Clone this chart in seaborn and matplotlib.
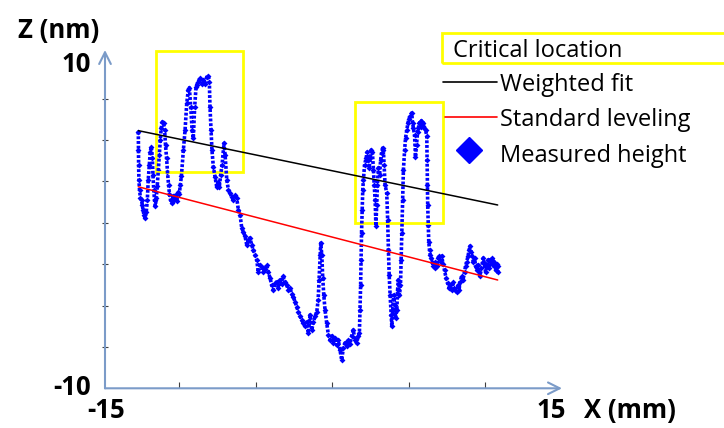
import matplotlib
matplotlib.use("Agg")
import matplotlib.pyplot as plt
import seaborn as sns
import pandas as pd
from matplotlib.patches import Rectangle
from matplotlib.lines import Line2D

# measured surface profile
x_mm = [
    -12.69, -12.68, -12.67, -12.65, -12.61, -12.55, -12.48, -12.43, -12.38, -12.32,
    -12.25, -12.17, -12.10, -12.04, -11.97, -11.91, -11.84, -11.77, -11.73, -11.68,
    -11.63, -11.58, -11.51, -11.45, -11.38, -11.32, -11.25, -11.19, -11.11, -11.04,
    -10.97, -10.91, -10.84, -10.78, -10.71, -10.65, -10.58, -10.50, -10.42, -10.33,
    -10.25, -10.18, -10.09, -10.01, -9.94, -9.87,
    -9.74, -9.63, -9.52, -9.42, -9.35, -9.26, -9.17, -9.09, -9.00, -8.91,
    -8.87, -8.78, -8.65, -8.54, -8.44, -8.32, -8.21, -8.11, -8.04, -8.00,
    -7.93, -7.87, -7.78, -7.67, -7.56, -7.47, -7.39, -7.30, -7.21, -7.08,
    -7.01, -6.90, -6.79, -6.69, -6.58, -6.47, -6.36, -6.25, -6.14, -6.03,
    -5.92, -5.81, -5.71, -5.59, -5.49, -5.38, -5.27, -5.16, -5.05, -4.94,
    -4.84, -4.73, -4.61, -4.51, -4.40, -4.29, -4.18, -4.07, -3.96, -3.85,
    -3.74, -3.63, -3.52, -3.42, -3.31, -3.20, -3.09, -2.98, -2.87, -2.76,
    -2.65, -2.54, -2.43, -2.32, -2.21, -2.11, -2.00, -1.89, -1.78, -1.67,
    -1.56, -1.45, -1.34, -1.23, -1.12, -1.01,
    -0.92, -0.86, -0.79, -0.75, -0.68, -0.62, -0.55, -0.47, -0.36, -0.25,
    -0.14, -0.03, 0.07, 0.18, 0.29, 0.40, 0.51, 0.62, 0.73, 0.84,
    0.95, 1.06, 1.17, 1.27, 1.38, 1.49, 1.60, 1.71, 1.78,
    1.82, 1.86, 1.89, 1.92, 1.96, 2.00, 2.04, 2.12, 2.22, 2.29,
    2.35, 2.42, 2.48, 2.55, 2.63, 2.70, 2.75, 2.81, 2.86, 2.91,
    2.96, 3.02, 3.10, 3.17, 3.23, 3.30, 3.35, 3.40, 3.46, 3.57,
    3.63, 3.68, 3.73, 3.79, 3.86, 3.90, 3.96, 4.02, 4.09, 4.15,
    4.23, 4.28, 4.33, 4.40, 4.47, 4.51, 4.55, 4.61, 4.66, 4.74,
    4.80, 4.88, 4.96, 5.03, 5.09, 5.20, 5.26, 5.31, 5.39, 5.45,
    5.52, 5.59, 5.64, 5.71, 5.78, 5.84, 5.91, 5.96, 6.04, 6.11, 6.19,
    6.21, 6.23, 6.25, 6.29, 6.32, 6.37, 6.42, 6.48, 6.55, 6.62,
    6.70, 6.76, 6.84, 6.93, 7.01, 7.09, 7.17, 7.25, 7.35, 7.45,
    7.55, 7.65, 7.71, 7.81, 7.88, 7.94, 8.04, 8.15, 8.24, 8.30,
    8.37, 8.47, 8.56, 8.66, 8.73, 8.80, 8.89, 8.96, 9.02, 9.09,
    9.15, 9.24, 9.32, 9.38, 9.46, 9.54, 9.61, 9.67, 9.77, 9.84,
    9.89, 9.97, 10.04, 10.11, 10.20, 10.26, 10.33, 10.43, 10.49, 10.56,
    10.62, 10.69, 10.77, 10.82, 10.87,
]
z_nm = [
    5.50, 4.39, 3.49, 2.58, 1.98, 1.49, 1.37, 1.07, 0.77, 0.47,
    0.28, 0.65, 1.37, 2.58, 3.49, 4.27, 4.59, 3.91, 2.88, 1.98,
    1.37, 1.01, 1.49, 2.22, 3.19, 4.09, 5.00, 5.72, 6.09, 6.03,
    5.60, 4.69, 3.91, 3.07, 2.28, 1.73, 1.37, 1.19, 1.61, 1.37,
    1.67, 1.31, 1.85, 1.73, 2.28, 2.82,
    4.39, 5.60, 7.21, 8.01, 8.15, 7.01, 5.60, 5.10, 7.01, 8.21,
    8.31, 8.50, 8.74, 8.38, 8.62, 8.38, 8.80, 8.86, 8.50, 7.01,
    5.60, 4.39, 3.38, 2.76, 2.17, 2.46, 2.16, 2.88, 3.49, 4.80,
    4.09, 2.58, 1.98, 1.80, 1.55, 1.37, 1.67, 1.49, 0.77, 0.47,
    -0.32, -0.56, -0.80, -1.35, -1.04, -0.92, -1.35, -1.65, -1.95, -2.25,
    -2.98, -2.55, -2.67, -2.98, -2.80, -2.55, -2.98, -3.34, -3.76, -4.06,
    -3.64, -3.58, -3.94, -3.46, -3.70, -3.22, -3.58, -3.76, -4.06, -3.94,
    -4.30, -4.49, -4.78, -5.09, -5.39, -5.63, -5.87, -6.06, -6.24, -6.00,
    -6.66, -5.57, -6.48, -6.00, -5.63, -5.39,
    -4.67, -3.46, -1.95, -1.23, -1.95, -3.34, -4.37, -5.27, -6.06, -6.78,
    -7.08, -6.84, -7.26, -6.96, -7.38, -7.08, -7.69, -8.29, -7.57, -7.26,
    -7.45, -7.08, -7.32, -6.84, -6.48, -7.08, -7.26, -6.84, -6.66,
    -5.27, -3.76, -2.25, -0.62, 0.77, 1.98, 2.58, 3.49, 3.91, 4.27,
    3.79, 3.31, 3.91, 4.39, 4.27, 3.19, 2.28, 1.37, -0.20, 1.07,
    2.28, 3.31, 2.88, 3.79, 4.21, 4.51, 4.39, 3.49, 2.28, 1.80,
    0.17, -1.65, -3.16, -4.37, -5.57, -6.24, -5.27, -4.37, -4.97, -5.75,
    -5.27, -4.06, -3.46, -4.37, -3.76, -2.25, -0.62, 1.37, 3.19, 4.39,
    5.12, 5.60, 6.04, 6.28, 6.46, 6.63, 6.04, 5.73, 5.30, 3.97,
    4.69, 5.48, 5.73, 6.04, 5.80, 6.16, 5.86, 6.04, 5.73, 5.60, 5.24,
    3.79, 2.28, 1.07, -0.14, -1.17, -1.65, -1.95, -2.13, -2.37, -2.61,
    -2.37, -2.73, -2.61, -2.13, -2.01, -2.37, -2.01, -2.49, -2.86, -3.34,
    -3.64, -3.94, -3.76, -4.06, -3.58, -3.94, -4.06, -4.18, -3.76, -4.06,
    -3.58, -3.22, -3.46, -2.98, -2.61, -2.37, -2.01, -1.65, -1.41, -1.77,
    -2.01, -2.37, -2.13, -2.61, -2.86, -2.55, -2.98, -3.22, -2.73, -2.37,
    -2.13, -2.55, -2.98, -2.61, -2.25, -2.73, -2.25, -2.49, -2.13, -2.61,
    -2.37, -2.86, -2.49, -2.98, -2.61,
]

# levelling lines (end points)
fit_x = [-12.69, 10.83]
weighted_fit = [5.56, 1.07]
standard_leveling = [2.17, -3.46]

# critical location boxes
crit_x0 = [-11.53, 1.49]
crit_x1 = [-5.82, 7.23]
crit_z0 = [3.04, -0.04]
crit_z1 = [10.37, 7.31]

x_ticks = [-10, -5, 0, 5, 10]
z_ticks = [-7.5, -5, -2.5, 0, 2.5, 5, 7.5]

W, H = 724, 428


def px(x, y):
    return x / W, 1 - y / H


sns.set_theme(style="white")
plt.rcParams['font.family'] = ['Open Sans', 'DejaVu Sans']

fig = plt.figure(figsize=(W / 100, H / 100), dpi=100)
ax = fig.add_axes([105 / W, 1 - 388.3 / H, 457 / W, 338.3 / H])
ax.set_xlim(-14.87, 15.04)
ax.set_ylim(-10, 10.43)

df = pd.DataFrame({"x": x_mm, "z": z_nm})
sns.lineplot(data=df, x="x", y="z", sort=False, estimator=None,
             color="#0000ff", lw=2.6, ax=ax)
ax.lines[-1].set_linestyle((0, (0.8, 0.5)))
sns.scatterplot(data=df, x="x", y="z", marker="D", s=9, color="#0000ff",
                linewidth=0, ax=ax)

sns.lineplot(x=fit_x, y=weighted_fit, color="black", lw=1.1, ax=ax)
sns.lineplot(x=fit_x, y=standard_leveling, color="#ff0000", lw=1.1, ax=ax)

for i in range(len(crit_x0)):
    ax.add_patch(Rectangle((crit_x0[i], crit_z0[i]), crit_x1[i] - crit_x0[i],
                           crit_z1[i] - crit_z0[i], fill=False, ec="#ffff00",
                           lw=2, clip_on=False, zorder=1))

# axes with arrows
for spine in ax.spines.values():
    spine.set_visible(False)
arrow = dict(arrowstyle="->,head_length=0.7,head_width=0.35", color="#7b9bc8",
             lw=1.5, shrinkA=0, shrinkB=0)
ax.annotate("", xy=(1, 0), xytext=(0, 0), xycoords="axes fraction", arrowprops=arrow)
ax.annotate("", xy=(0, 1), xytext=(0, 0), xycoords="axes fraction", arrowprops=arrow)

ax.set_xticks(x_ticks)
ax.set_yticks(z_ticks)
ax.set_xticklabels([])
ax.set_yticklabels([])
ax.set_xlabel("")
ax.set_ylabel("")
ax.tick_params(axis="x", bottom=True, direction="in", length=4, width=0.8, color="#404040")
ax.tick_params(axis="y", left=True, direction="inout", length=5, width=0.8, color="#404040")

bold = dict(fontsize=18.5, fontweight="bold", color="black", va="baseline", ha="center")
fig.text(*px(59, 38), "Z (nm)", **bold)
fig.text(*px(76, 72), "10", **bold)
fig.text(*px(72, 395), "-10", **bold)
fig.text(*px(106.5, 418), "-15", **bold)
fig.text(*px(551.5, 418), "15", **bold)
fig.text(*px(630, 418), "X (mm)", **bold)

# legend drawn by hand
leg = dict(fontsize=17, color="black", va="baseline", ha="left")
x0, y0 = px(441.7, 63.3)
fig.add_artist(Rectangle((x0, y0), 300 / W, 30 / H, fill=False, ec="#ffff00",
                         lw=2, transform=fig.transFigure, clip_on=False))
fig.text(*px(453, 57.3), "Critical location", **leg)
fig.add_artist(Line2D([443.3 / W, 496.7 / W], [px(0, 81.7)[1]] * 2, color="black",
                      lw=1.2, transform=fig.transFigure))
fig.text(*px(500, 90.7), "Weighted fit", **leg)
fig.add_artist(Line2D([445 / W, 497 / W], [px(0, 116.7)[1]] * 2, color="#ff0000",
                      lw=1.2, transform=fig.transFigure))
fig.text(*px(500, 126), "Standard leveling", **leg)
fig.add_artist(Line2D([469.3 / W], [px(0, 150)[1]], marker="D", markersize=13,
                      color="#0000ff", lw=0, transform=fig.transFigure))
fig.text(*px(500, 161.7), "Measured height", **leg)

fig.savefig("out.png", dpi=100)
plt.close()
